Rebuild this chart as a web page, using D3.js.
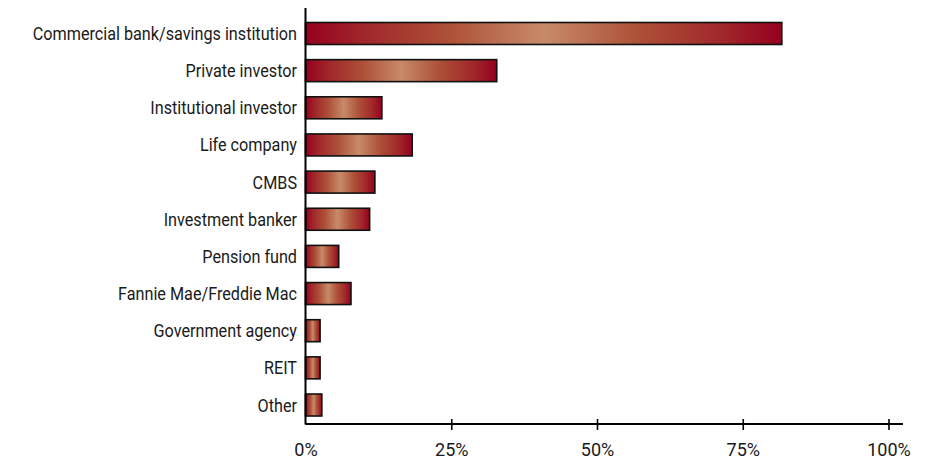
<!DOCTYPE html>
<html>
<head>
<meta charset="utf-8">
<script src="https://cdn.jsdelivr.net/npm/d3@7"></script>
<style>
  html, body { margin: 0; padding: 0; background: #fff; }
  svg text { font-family: Roboto, "DejaVu Sans Condensed", sans-serif; fill: #1a1a1a; }
</style>
</head>
<body>
<svg id="chart" width="934" height="461"></svg>
<script>
// Share of respondents by lender type (percent)
const categories = [
  "Commercial bank/savings institution",
  "Private investor",
  "Institutional investor",
  "Life company",
  "CMBS",
  "Investment banker",
  "Pension fund",
  "Fannie Mae/Freddie Mac",
  "Government agency",
  "REIT",
  "Other"
];
const values = [81.7, 32.8, 13.1, 18.3, 11.9, 11.0, 5.7, 7.8, 2.5, 2.5, 2.8];
const tickValues = [0, 25, 50, 75, 100];
const tickLabels = ["0%", "25%", "50%", "75%", "100%"];

const svg = d3.select("#chart");

const x = d3.scaleLinear().domain([0, 100]).range([305.5, 888.5]);
const y = d3.scaleBand()
  .domain(categories)
  .range([8, 430.5])
  .paddingInner(0.408)
  .paddingOuter(0.39);

// Horizontal compression that gives the text a condensed look
const labelSqueeze = 0.9;
const tickSqueeze = 0.95;

// Metallic horizontal gradient: dark crimson at the ends, warm tan in the middle
const defs = svg.append("defs");
const grad = defs.append("linearGradient")
  .attr("id", "barGrad")
  .attr("x1", "0%").attr("x2", "100%").attr("y1", "0%").attr("y2", "0%");
[
  [0, "#96001f"],
  [0.12, "#a0262a"],
  [0.3, "#ad5038"],
  [0.5, "#c78b69"],
  [0.7, "#ad5038"],
  [0.88, "#a0262a"],
  [1, "#96001f"]
].forEach(([o, c]) => grad.append("stop").attr("offset", o).attr("stop-color", c));

// Bars
svg.append("g")
  .selectAll("rect")
  .data(values)
  .join("rect")
  .attr("x", x(0))
  .attr("y", (d, i) => y(categories[i]))
  .attr("width", d => x(d) - x(0))
  .attr("height", y.bandwidth())
  .attr("fill", "url(#barGrad)")
  .attr("stroke", "#111")
  .attr("stroke-width", 1.6);

// Category labels
svg.append("g")
  .selectAll("text")
  .data(categories)
  .join("text")
  .attr("transform", d => `translate(297,${y(d) + y.bandwidth() / 2}) scale(${labelSqueeze},1)`)
  .attr("dy", "0.36em")
  .attr("text-anchor", "end")
  .attr("font-size", 18)
  .text(d => d);

// Vertical axis line
svg.append("line")
  .attr("x1", x(0)).attr("x2", x(0))
  .attr("y1", 8).attr("y2", 424.5)
  .attr("stroke", "#000").attr("stroke-width", 2);

// Horizontal axis
const xAxis = d3.axisBottom(x)
  .tickValues(tickValues)
  .tickFormat((d, i) => tickLabels[i])
  .tickSize(0);
const gx = svg.append("g").attr("transform", "translate(0,424)").call(xAxis);
gx.select(".domain").remove();
gx.append("line")
  .attr("x1", x(0)).attr("x2", 903)
  .attr("y1", 0).attr("y2", 0)
  .attr("stroke", "#000").attr("stroke-width", 2);
gx.selectAll(".tick").filter(d => d > 0)
  .append("line")
  .attr("y1", -5).attr("y2", 6)
  .attr("stroke", "#000").attr("stroke-width", 1.6);
gx.selectAll(".tick text")
  .attr("y", 0)
  .attr("dy", 0)
  .attr("transform", `translate(0,32) scale(${tickSqueeze},1)`)
  .attr("font-size", 19)
  .attr("fill", "#1a1a1a")
  .style("font-family", "Roboto, 'DejaVu Sans Condensed', sans-serif");
</script>
</body>
</html>
